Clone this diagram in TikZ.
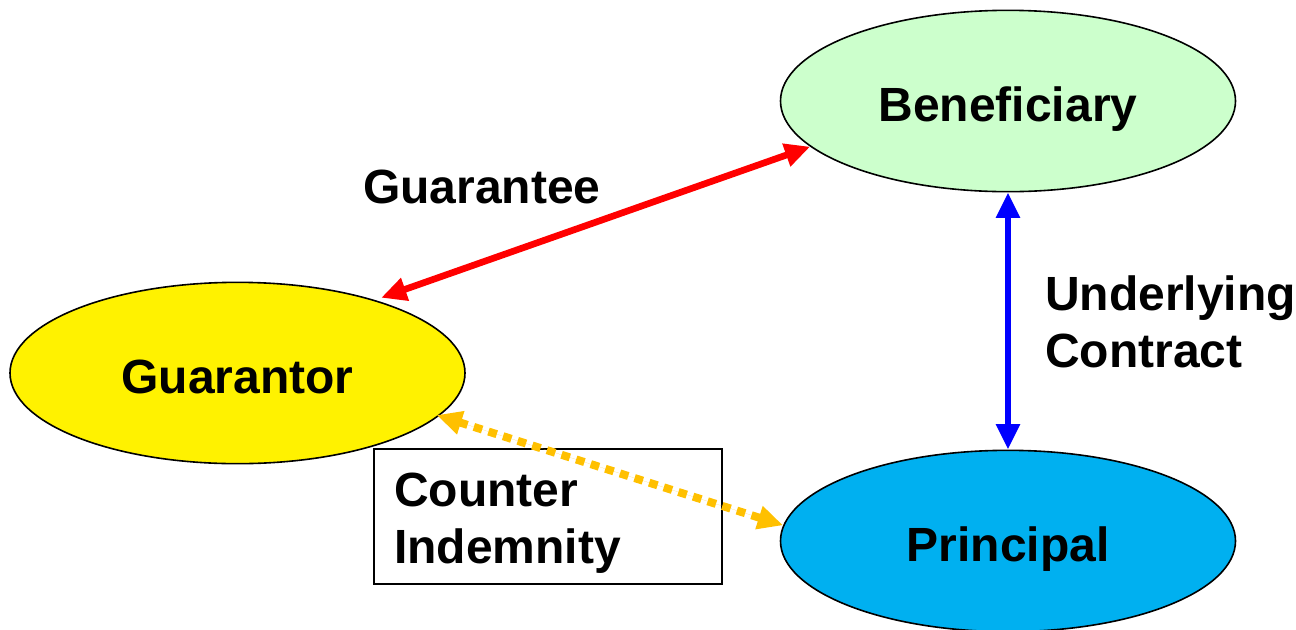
\documentclass[tikz,border=0pt]{standalone}
\usepackage{fontspec}
\setmainfont{Liberation Sans}
\usetikzlibrary{shapes.geometric,arrows.meta}
\definecolor{benegreen}{HTML}{CCFFCC}
\definecolor{princblue}{HTML}{00B0F0}
\definecolor{indorange}{HTML}{FFC000}
\definecolor{guarred}{HTML}{FF0000}
\definecolor{contblue}{HTML}{0000FF}
\begin{document}
\begin{tikzpicture}[x=0.75pt,y=-0.75pt,
  every node/.style={font=\bfseries\fontsize{36}{42.75}\selectfont},
  party/.style={ellipse,draw=black,line width=1.2pt,inner sep=0pt,
    minimum width=341.25pt,minimum height=136pt,text height=30pt,text depth=0pt},
  tipboth/.style={{Triangle[length=19pt,width=17pt]}-{Triangle[length=19pt,width=17pt]},line width=5pt},
  lbl/.style={align=left,inner sep=0pt}
]
\useasboundingbox (0,0) rectangle (1296,629);
\node[party,fill=benegreen] (B) at (1008,101) {Beneficiary};
\node[party,fill=yellow] (G) at (237.5,373) {Guarantor};
\node[party,fill=princblue] (P) at (1008,541) {Principal};

\node[draw=black,line width=1.2pt,minimum width=261pt,minimum height=101.25pt,
  inner sep=0pt] (box) at (548,516.5) {};
\node[lbl,anchor=west] (ci) at (394,523) {Counter\\Indemnity};

\node[lbl,anchor=west] (gl) at (363,187) {Guarantee};
\node[lbl,anchor=west] (ul) at (1045,322) {Underlying\\Contract};

\draw[tipboth,draw=guarred,fill=guarred,shorten <=5pt] (G.28) -- (B.193);
\draw[tipboth,draw=contblue,fill=contblue] (B.south) -- (P.north);
\draw[tipboth,draw=indorange,fill=indorange,line width=6pt,dash pattern=on 6.5pt off 5pt,shorten <=-2pt]
  (G.-12) -- (P.176);
\end{tikzpicture}
\end{document}
